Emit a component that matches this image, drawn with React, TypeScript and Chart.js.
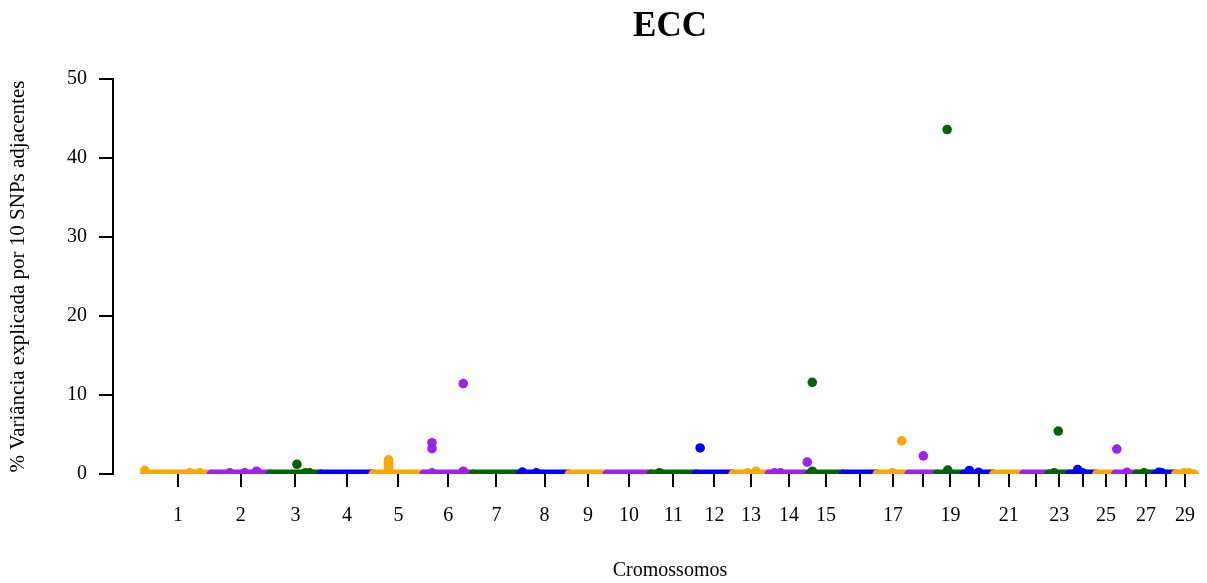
import React, { useEffect, useRef } from 'react';
import { Chart, registerables } from 'chart.js';

Chart.register(...registerables);

// Chromosomes (cattle autosomes) and their approximate lengths in Mb
const chromosomes = ['1','2','3','4','5','6','7','8','9','10','11','12','13','14','15','16','17','18','19','20','21','22','23','24','25','26','27','28','29'];
const chrLengthsMb = [159, 140, 121, 124, 121, 117, 112, 117, 90, 105, 107, 88, 86, 95, 81, 81, 76, 67, 64, 71, 71, 60, 50, 64, 45, 50, 45, 48, 45];

// Tick labels shown under each chromosome (some hidden, as in the original)
const xTickLabels = ['1','2','3','4','5','6','7','8','9','10','11','12','13','14','15','','17','','19','','21','','23','','25','','27','','29'];
const yTickValues = [0, 10, 20, 30, 40, 50];

// Windows standing out from the baseline: chromosome, position within chromosome (Mb), % variance
const peakChr = [1, 1, 1, 2, 2, 2, 3, 3, 3, 5, 5, 5, 5, 5, 5, 6, 6, 6, 6, 6, 8, 8, 11, 12, 13, 13, 14, 14, 14, 15, 15, 17, 17, 18, 19, 19, 20, 20, 23, 23, 24, 24, 26, 26, 27, 28, 28, 29, 29];
const peakPosMb = [1, 108, 132, 44, 80, 108, 64, 84, 94, 37, 37, 37, 37, 37, 37, 19.5, 19.5, 19.5, 94, 94, 6, 39, 20, 10, 35, 55, 13, 27, 91, 8, 8, 37, 59, 34.5, 24, 25.5, 13, 35, 13, 22.6, 18.6, 30, 3, 27, 18, 8, 15, 20, 32];
const peakValue = [0.45, 0.15, 0.15, 0.15, 0.15, 0.35, 1.23, 0.15, 0.15, 1.8, 1.6, 1.4, 1.1, 0.8, 0.5, 3.96, 3.2, 0.15, 11.45, 0.35, 0.25, 0.15, 0.15, 3.3, 0.15, 0.35, 0.15, 0.15, 1.5, 11.6, 0.35, 0.15, 4.2, 2.3, 43.6, 0.5, 0.45, 0.2, 0.15, 5.44, 0.55, 0.15, 3.16, 0.2, 0.15, 0.2, 0.15, 0.15, 0.15];

const palette = ['#FFA500', '#A020F0', '#006400', '#0000FF'];

const serif = 'Liberation Serif, Times New Roman, serif';

export default function App() {
  const ref = useRef<HTMLCanvasElement>(null);

  useEffect(() => {
    document.body.style.margin = '0';
    const starts: number[] = [];
    let acc = 0;
    chrLengthsMb.forEach((l) => {
      starts.push(acc);
      acc += l;
    });
    const centers = chrLengthsMb.map((l, i) => starts[i] + l / 2);

    const datasets: any[] = [];
    chromosomes.forEach((c, i) => {
      const color = palette[i % palette.length];
      datasets.push({
        type: 'line',
        label: 'chr' + c,
        data: [
          { x: starts[i], y: 0 },
          { x: starts[i] + chrLengthsMb[i], y: 0 },
        ],
        borderColor: color,
        borderWidth: 9,
        borderCapStyle: 'round',
        pointRadius: 0,
        clip: 0,
        order: (29 - i) * 2 + 1,
      });
      const pts: { x: number; y: number }[] = [];
      peakChr.forEach((pc, k) => {
        if (pc === i + 1) pts.push({ x: starts[i] + peakPosMb[k], y: peakValue[k] });
      });
      datasets.push({
        type: 'scatter',
        label: 'peaks' + c,
        data: pts,
        backgroundColor: color,
        borderWidth: 0,
        pointRadius: 4.8,
        pointHoverRadius: 4.8,
        clip: 0,
        order: (29 - i) * 2,
      });
    });

    const font = { family: serif, size: 20 };

    const chart = new Chart(ref.current as HTMLCanvasElement, {
      type: 'scatter',
      data: { datasets },
      options: {
        animation: false,
        responsive: false,
        layout: { padding: { left: 0, right: 13, top: 0, bottom: 0 } },
        plugins: {
          legend: { display: false },
          tooltip: { enabled: false },
          title: {
            display: true,
            text: 'ECC',
            fullSize: false,
            color: '#000',
            font: { family: serif, size: 35, weight: 'bold' },
            padding: { top: 6, bottom: 31 },
          },
        },
        scales: {
          x: {
            type: 'linear',
            min: -75,
            max: 2577.4,
            afterBuildTicks: (s: any) => {
              s.ticks = centers.map((v) => ({ value: v }));
            },
            afterFit: (s: any) => {
              s.height = 109;
            },
            border: { display: false },
            grid: { drawOnChartArea: false, drawTicks: true, tickLength: 13, color: '#000', lineWidth: 2 },
            ticks: {
              autoSkip: false,
              maxRotation: 0,
              minRotation: 0,
              padding: 17,
              color: '#000',
              font,
              callback: (_v: any, idx: number) => xTickLabels[idx],
            },
            title: {
              display: true,
              text: 'Cromossomos',
              color: '#000',
              font,
              padding: { top: 0, bottom: 0 },
            },
          },
          y: {
            type: 'linear',
            min: 0,
            max: 50,
            afterBuildTicks: (s: any) => {
              s.ticks = yTickValues.map((v) => ({ value: v }));
            },
            afterFit: (s: any) => {
              s.width = 113;
            },
            border: { display: true, color: '#000', width: 2 },
            grid: { drawOnChartArea: false, drawTicks: true, tickLength: 14, color: '#000', lineWidth: 2 },
            ticks: { padding: 12, color: '#000', font },
            title: {
              display: true,
              text: '% Variância explicada por 10 SNPs adjacentes',
              color: '#000',
              font: { family: serif, size: 21 },
              padding: { top: 6, bottom: 0 },
            },
          },
        },
      } as any,
    });
    return () => chart.destroy();
  }, []);

  return (
    <div style={{ width: 1207, height: 583, overflow: 'hidden' }}>
      <canvas ref={ref} width={1240} height={583} style={{ display: 'block' }} />
    </div>
  );
}
